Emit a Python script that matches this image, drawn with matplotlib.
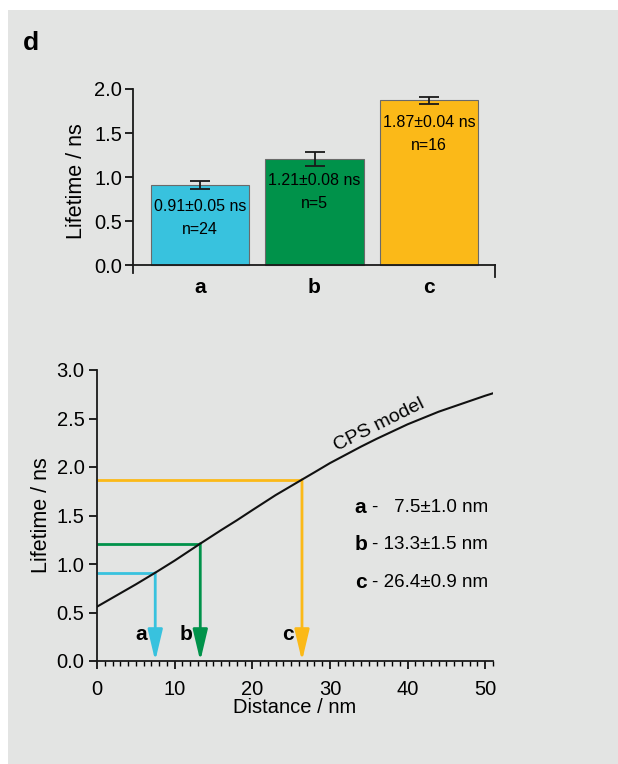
import numpy as np
import matplotlib
matplotlib.use("Agg")
import matplotlib.pyplot as plt
from matplotlib.patches import Rectangle

plt.rcParams['font.family'] = ['Liberation Sans', 'DejaVu Sans']

# bar data
groups = ['a', 'b', 'c']
lifetimes = [0.91, 1.21, 1.87]
errors = [0.05, 0.08, 0.04]
counts = [24, 5, 16]
colors = ['#38c2de', '#00924a', '#fbb918']

# distances read from the model
distances = [7.5, 13.3, 26.4]
dist_text = ['-   7.5\u00b11.0 nm', '- 13.3\u00b11.5 nm', '- 26.4\u00b10.9 nm']

# CPS model curve
cps_x = [0, 2.5, 5, 7.5, 10, 13.3, 16, 18, 20, 23, 26.4, 28, 30, 32, 34, 36, 38,
         40, 42, 44, 46, 48, 50, 51]
cps_y = [0.56, 0.675, 0.79, 0.91, 1.035, 1.21, 1.35, 1.45, 1.555, 1.71, 1.87, 1.945,
         2.04, 2.125, 2.21, 2.29, 2.365, 2.44, 2.505, 2.57, 2.625, 2.68, 2.735, 2.76]

bg = '#e3e4e3'
fig = plt.figure(figsize=(6.18, 7.64), dpi=100, facecolor='white')
fig.patches.append(Rectangle((8 / 618, 0), 1, 1 - 10 / 764, transform=fig.transFigure,
                             facecolor=bg, edgecolor='none', zorder=-10))
fig.text(23 / 618, 1 - 50 / 764, 'd', fontsize=19, fontweight='bold')

# ---- top: bar chart
ax1 = fig.add_axes([133 / 618, 1 - 273 / 764, 362 / 618, 184 / 764])
ax1.set_facecolor('none')
ax1.spines['top'].set_visible(False)
ax1.spines['right'].set_visible(False)
ax1.spines['bottom'].set_position(('data', 0))
for s in ['left', 'bottom']:
    ax1.spines[s].set_linewidth(1.3)
    ax1.spines[s].set_color('#1a1a1a')

xpos = np.arange(len(groups))
ax1.bar(xpos, lifetimes, width=0.86, color=colors, edgecolor='#6a6a6a', linewidth=0.8,
        zorder=2)
ax1.errorbar(xpos, lifetimes, yerr=errors, fmt='none', ecolor='#1a1a1a', elinewidth=1.3,
             capsize=7, capthick=1.3, zorder=3)
for i in range(len(groups)):
    ax1.text(xpos[i], lifetimes[i] - 0.25, '%.2f\u00b1%.2f ns' % (lifetimes[i], errors[i]),
             ha='center', va='center', fontsize=11.5, zorder=4)
    ax1.text(xpos[i], lifetimes[i] - 0.51, 'n=%d' % counts[i],
             ha='center', va='center', fontsize=11.5, zorder=4)
ax1.set_xlim(-0.585, 2.576)
ax1.set_ylim(-0.09, 2.0)
ax1.set_yticks([0, 0.5, 1.0, 1.5, 2.0])
ax1.set_yticklabels(['0.0', '0.5', '1.0', '1.5', '2.0'])
ax1.set_xticks(xpos)
ax1.set_xticks([1], minor=True)
ax1.tick_params(axis='x', which='major', length=0, pad=9, labelsize=15)
ax1.tick_params(axis='x', which='minor', length=4, width=1.2, direction='out')
ax1.tick_params(axis='y', length=6, width=1.2, labelsize=14.5, pad=2)
ax1.set_xticklabels(groups, fontweight='bold', fontsize=15)
ax1.plot([2.576, 2.576], [0, -0.13], color='#1a1a1a', lw=1.3, clip_on=False)
ax1.set_ylabel('Lifetime / ns', fontsize=15.5, labelpad=5)

# ---- bottom: CPS model
ax2 = fig.add_axes([97 / 618, 1 - 661 / 764, 396 / 618, 291 / 764])
ax2.set_facecolor('none')
ax2.plot(cps_x, cps_y, color='#111111', lw=1.5, zorder=3)
for i in range(len(groups)):
    ax2.plot([0, distances[i]], [lifetimes[i], lifetimes[i]], color=colors[i], lw=2, zorder=2,
             solid_capstyle='butt')
    ax2.annotate('', xy=(distances[i], 0), xytext=(distances[i], lifetimes[i]),
                 arrowprops=dict(arrowstyle='-|>,head_length=1.9,head_width=0.45',
                                 color=colors[i], lw=2, shrinkA=0, shrinkB=0), zorder=2)
    ax2.text(distances[i] - 1.0, 0.27, groups[i], ha='right', va='center',
             fontsize=15, fontweight='bold')

ax2.text(30.9, 2.17, 'CPS model', rotation=26.5, rotation_mode='anchor', ha='left',
         va='baseline', fontsize=14)

legend_y = [1.58, 1.20, 0.81]
for i in range(len(groups)):
    ax2.text(33.2, legend_y[i], groups[i], ha='left', va='center', fontsize=15,
             fontweight='bold')
    ax2.text(35.4, legend_y[i], dist_text[i], ha='left', va='center', fontsize=13.5)

ax2.set_xlim(0, 51)
ax2.set_ylim(0, 3.0)
ax2.set_xticks(np.arange(0, 51, 10))
ax2.set_xticks(np.arange(0, 52, 1), minor=True)
ax2.set_yticks(np.arange(0, 3.01, 0.5))
ax2.set_yticklabels(['%.1f' % v for v in np.arange(0, 3.01, 0.5)])
ax2.tick_params(axis='both', which='major', length=6, width=1.2, labelsize=14.5, pad=3)
ax2.tick_params(axis='x', which='major', pad=8)
ax2.tick_params(axis='x', which='minor', length=3.5, width=1.0)
ax2.spines['top'].set_visible(False)
ax2.spines['right'].set_visible(False)
for s in ['left', 'bottom']:
    ax2.spines[s].set_linewidth(1.3)
    ax2.spines[s].set_color('#1a1a1a')
ax2.set_xlabel('Distance / nm', fontsize=14.5, labelpad=-1)
ax2.set_ylabel('Lifetime / ns', fontsize=15.5, labelpad=3)

fig.savefig('out.png', dpi=100, facecolor='white')
